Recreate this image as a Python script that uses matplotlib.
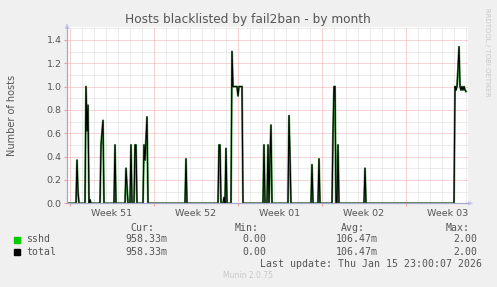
import numpy as np
import matplotlib
matplotlib.use('Agg')
import matplotlib.pyplot as plt
from matplotlib.transforms import blended_transform_factory

# hours since Sun Dec 14 2025 00:00, one sample every 2 h (munin month view)
start_hour = -6
end_hour = 792
spike_hours = [14, 16, 32, 34, 36, 40, 62, 64, 66, 90, 112, 114, 122, 130, 132,
               148, 150, 152, 154, 232, 298, 300, 308, 312, 324, 326, 328, 330,
               332, 334, 336, 338, 340, 342, 344, 388, 396, 400, 402, 438, 440,
               484, 498, 526, 528, 530, 536, 590, 770, 772, 774, 776, 778, 780,
               782, 784, 786, 788, 790, 792]
spike_vals = [0.37, 0.10, 1.00, 0.62, 0.84, 0.03, 0.50, 0.60, 0.71, 0.50, 0.30,
              0.15, 0.50, 0.50, 0.50, 0.50, 0.37, 0.55, 0.74, 0.38, 0.50, 0.50,
              0.05, 0.47, 1.30, 1.00, 1.00, 1.00, 1.00, 1.00, 0.92, 1.00, 1.00,
              1.00, 1.00, 0.50, 0.50, 0.40, 0.67, 0.75, 0.40, 0.33, 0.38, 0.60,
              1.00, 1.00, 0.50, 0.30, 1.00, 0.97, 1.00, 1.15, 1.34, 1.00, 0.97,
              1.00, 0.97, 1.00, 0.97, 0.958]

week_edges = [0, 168, 336, 504, 672]
week_labels = ['Week 51', 'Week 52', 'Week 01', 'Week 02', 'Week 03']

legend_names = ['sshd', 'total']
legend_colors = ['#00cc00', '#000000']
stat_headers = ['Cur:', 'Min:', 'Avg:', 'Max:']
stat_values = [['958.33m', '0.00', '106.47m', '2.00'],
               ['958.33m', '0.00', '106.47m', '2.00']]
last_update = 'Last update: Thu Jan 15 23:00:07 2026'

TXT = '#555555'
BG = '#f0f0f0'

hours = np.arange(start_hour, end_hour + 1, 2)
sshd = np.zeros(len(hours))
for h, v in zip(spike_hours, spike_vals):
    sshd[(h - start_hour) // 2] = v
total = sshd.copy()

fig = plt.figure(figsize=(4.97, 2.87), dpi=100, facecolor=BG)
W, H = 497, 287
ax = fig.add_axes([67 / W, (H - 203.3) / H, 401 / W, 176.3 / H])
ax.set_facecolor('white')
ax.set_xlim(-6, 796)
ax.set_ylim(0, 1.51)

# grid: gray dotted minor, red dotted major
dots = (0, (1, 1))
for d in range(0, 796, 24):
    if d not in week_edges:
        ax.axvline(d, color='#d8d8d8', lw=0.72, ls=dots, zorder=0)
for y in np.arange(0.1, 1.51, 0.2):
    ax.axhline(y, color='#d8d8d8', lw=0.72, ls=dots, zorder=0)
for w in week_edges:
    ax.axvline(w, color='#f2a8a8', lw=0.72, ls=dots, zorder=0)
for y in np.arange(0.2, 1.41, 0.2):
    ax.axhline(y, color='#f2a8a8', lw=0.72, ls=dots, zorder=0)

ax.plot(hours, sshd, color='#2f8a2f', lw=1.5, alpha=0.85, zorder=2)
ax.plot(hours, total, color='black', lw=0.8, zorder=3)

for s in ['top', 'right']:
    ax.spines[s].set_visible(False)
for s in ['left', 'bottom']:
    ax.spines[s].set_color('#a8a8cc')
    ax.spines[s].set_linewidth(0.9)
    ax.spines[s].set_zorder(5)

ax.set_yticks(np.arange(0, 1.41, 0.2))
ax.set_yticklabels([f'{v:.1f}' for v in np.arange(0, 1.41, 0.2)])
ax.tick_params(axis='y', length=2, color='#f2a0a0', labelsize=6.8,
               labelcolor=TXT, pad=2)
ax.set_xticks(week_edges)
ax.set_xticklabels([])
ax.tick_params(axis='x', length=2, color='#f2a0a0')

trans = blended_transform_factory(ax.transData, ax.transAxes)
for w, lab in zip(week_edges, week_labels):
    ax.text(w + 84, -0.035, lab, transform=trans, ha='center', va='top',
            fontsize=6.8, color=TXT)

# axis arrows
ax.annotate('', xy=(0, 1.035), xytext=(0, 0.99), xycoords='axes fraction',
            arrowprops=dict(arrowstyle='-|>', color='#c8c8f0', lw=0.8,
                            mutation_scale=6), annotation_clip=False)
ax.annotate('', xy=(1.02, 0), xytext=(0.99, 0), xycoords='axes fraction',
            arrowprops=dict(arrowstyle='-|>', color='#c8c8f0', lw=0.8,
                            mutation_scale=6), annotation_clip=False)

fig.text(248 / W, 1 - 19 / H, 'Hosts blacklisted by fail2ban - by month',
         ha='center', va='center', fontsize=8.7, color=TXT)
fig.text(12 / W, 1 - 115 / H, 'Number of hosts', rotation=90,
         ha='center', va='center', fontsize=7, color=TXT)
fig.text(487 / W, 1 - 52 / H, 'RRDTOOL / TOBI OETIKER', rotation=270,
         ha='center', va='center', fontsize=5, color='#c8c8c8')

# legend table
mono = 'DejaVu Sans Mono'
col_right = [154, 259, 365, 470]
val_right = [167, 266, 378, 477]
for x, t in zip(col_right, stat_headers):
    fig.text(x / W, 1 - 227.7 / H, t, ha='right', va='center',
             family=mono, fontsize=7.1, color=TXT)
for i, (name, col, vals) in enumerate(zip(legend_names, legend_colors,
                                          stat_values)):
    yc = 239.5 + i * 12.2
    fig.patches.append(plt.Rectangle((14 / W, 1 - (yc + 3) / H), 6 / W, 6 / H,
                                     transform=fig.transFigure, color=col))
    fig.text(26 / W, 1 - yc / H, name, ha='left', va='center',
             family=mono, fontsize=7.1, color=TXT)
    for x, v in zip(val_right, vals):
        fig.text(x / W, 1 - yc / H, v, ha='right', va='center',
                 family=mono, fontsize=7.1, color=TXT)
fig.text(482 / W, 1 - 263.7 / H, last_update, ha='right', va='center',
         family=mono, fontsize=7.1, color=TXT)
fig.text(248 / W, 1 - 276 / H, 'Munin 2.0.75', ha='center', va='center',
         fontsize=5.5, color='#c8c8c8')

fig.savefig('out.png', dpi=100, facecolor=BG)
